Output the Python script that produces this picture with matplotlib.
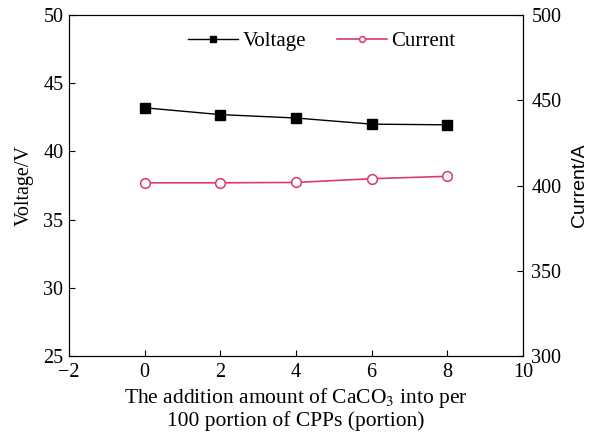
import matplotlib
matplotlib.use('Agg')
import matplotlib.pyplot as plt
import matplotlib.ticker as ticker

plt.rcParams['font.family'] = ['Liberation Serif', 'DejaVu Serif']
plt.rcParams['mathtext.fontset'] = 'stix'

# data
caco3 = [0, 2, 4, 6, 8]
voltage = [43.2, 42.7, 42.45, 42.0, 41.95]
current = [401.6, 401.6, 401.8, 404.0, 405.4]

fig = plt.figure(figsize=(5.89, 4.36), dpi=100)
ax = fig.add_axes([0.117, 0.1835, 0.771, 0.782])
ax2 = ax.twinx()

l1, = ax.plot(caco3, voltage, color='black', marker='s', markersize=6.5, lw=1, label='Voltage')
l2, = ax2.plot(caco3, current, color='#d83a6a', marker='o', markersize=7, lw=1.2,
               markerfacecolor='white', markeredgewidth=1.1, label='Current')

ax.set_xlim(-2, 10)
ax.set_ylim(25, 50)
ax2.set_ylim(300, 500)
ax.xaxis.set_major_locator(ticker.MultipleLocator(2))
ax.yaxis.set_major_locator(ticker.MultipleLocator(5))
ax2.yaxis.set_major_locator(ticker.MultipleLocator(50))

ax.tick_params(direction='in', labelsize=14.5, length=4, top=False, right=False)
ax.tick_params(axis='x', pad=5)
ax.tick_params(axis='y', pad=4)
ax2.tick_params(direction='in', labelsize=14.5, length=4, pad=6)
ax.set_ylabel('Voltage/V', fontsize=14.5, labelpad=7)
# right label is set in a sans font in the reference
ax2.set_ylabel('Current/A', fontsize=14, labelpad=7, family=['Liberation Sans', 'DejaVu Sans'])
ax.set_xlabel('The addition amount of CaCO$_3$ into per\n100 portion of CPPs (portion)',
              fontsize=15.5, labelpad=3, linespacing=1.05)

ax.legend(handles=[l1, l2], loc='upper left', ncol=2, frameon=False, fontsize=15,
          handlelength=2.4, columnspacing=1.5, handletextpad=0.2, markerscale=0.6,
          borderaxespad=0, bbox_to_anchor=(180 / 589, 0.946), bbox_transform=fig.transFigure)

plt.savefig('out.png', dpi=100)
